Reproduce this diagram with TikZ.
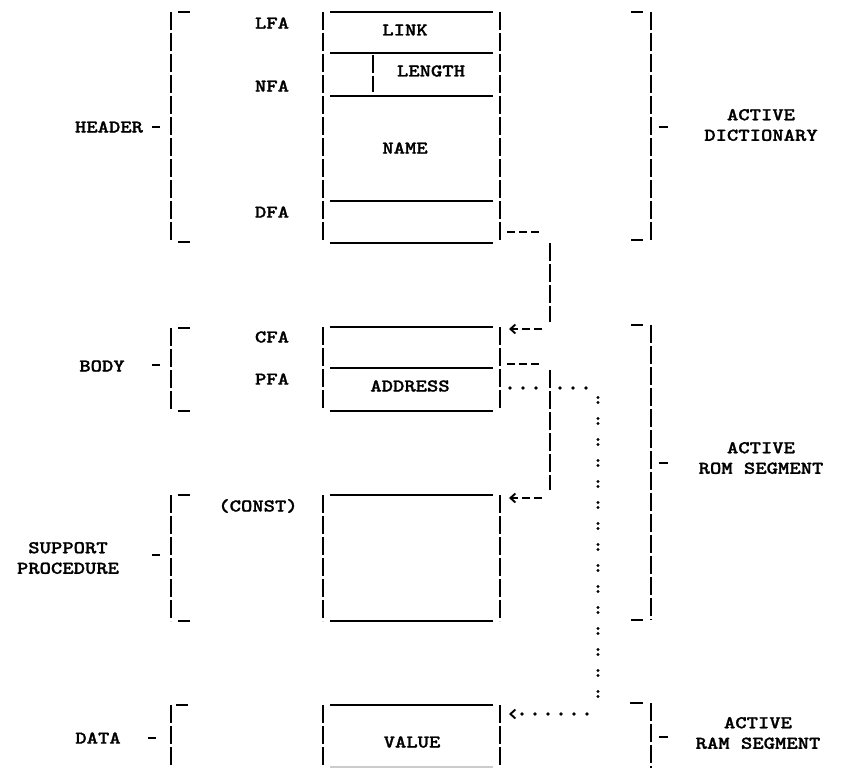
\documentclass[tikz,border=0pt]{standalone}
\usepackage{fontspec}
\newfontfamily\monobold{lmmonolt10-bold.otf}[FakeBold=1.2]
\usetikzlibrary{arrows.meta}

\begin{document}
\begin{tikzpicture}[x=1pt,y=-1pt,
	txt/.style={font=\monobold\fontsize{18}{20.5}\selectfont,
	inner sep=0pt,xscale=1.2,align=center},
	rule/.style={line width=1.8pt},
	bar/.style={line width=1.7pt,dash pattern=on 18pt off 3pt},
	tick/.style={line width=1.6pt},
	dashes/.style={line width=1.8pt,dash pattern=on 8pt off 4pt},
	dotrow/.style={line width=3.6pt,line cap=round,dash pattern=on 0pt off 13pt},
	colons/.style={line width=3.4pt,line cap=round,dash pattern=on 0pt off 5pt on 0pt off 16pt},
	ptr/.style={-{Straight Barb[length=5pt,width=9pt,line width=1.9pt]}}]
\useasboundingbox (0,0) rectangle (841,768);

% labels on the left
\node[txt] (header) at (109,127) {HEADER};
\node[txt] (body) at (102,366) {BODY};
\node[txt] (support) at (68,558) {SUPPORT\\PROCEDURE};
\node[txt] (data) at (98,738) {DATA};

% field addresses
\node[txt] (lfa) at (272,23) {LFA};
\node[txt] (nfa) at (272,86) {NFA};
\node[txt] (dfa) at (272,212) {DFA};
\node[txt] (cfa) at (272,337) {CFA};
\node[txt] (pfa) at (272,379) {PFA};
\node[txt] (const) at (258,506) {(CONST)};

% fields
\node[txt] (link) at (405,30) {LINK};
\node[txt] (length) at (431,71) {LENGTH};
\node[txt] (name) at (405,148) {NAME};
\node[txt] (address) at (410,386) {ADDRESS};
\node[txt] (value) at (412,742) {VALUE};

% labels on the right
\node[txt] (dict) at (761,125) {ACTIVE\\DICTIONARY};
\node[txt] (rom) at (761,458) {ACTIVE\\ROM SEGMENT};
\node[txt] (ram) at (758,733) {ACTIVE\\RAM SEGMENT};

% brackets
\foreach \t/\b/\m in {12/242/127,328/411/365,495/621/555}{
  \draw[bar] (171,\t) -- (171,\b);
  \draw[tick] (178,\t) -- (190,\t) (178,\b) -- (190,\b) (152,\m) -- (160,\m);
}
\draw[bar] (171,705) -- (171,768);
\draw[tick] (176,705) -- (188,705) (148,738) -- (156,738);
\foreach \t/\b/\m in {12/240/127,325/620/463}{
  \draw[bar] (651,\t) -- (651,\b);
  \draw[tick] (631,\t) -- (643,\t) (631,\b) -- (643,\b) (659,\m) -- (668,\m);
}
\draw[bar] (651,703) -- (651,768);
\draw[tick] (630,703) -- (643,703) (659,737) -- (668,737);

% boxes
\foreach \t/\b in {12/242,327/410,495/621,705/768}
  \draw[bar] (323,\t) -- (323,\b) (500,\t) -- (500,\b);
\foreach \y in {12,53,96,201,243,327,368,411,495,621,705}
  \draw[rule] (330,\y) -- (493,\y);
\draw[bar] (373,55) -- (373,92);
\draw[rule,black!20] (330,767) -- (493,767);

% connectors
\coordinate (dfa-out) at (507,232);
\coordinate (cfa-in) at (509,329);
\coordinate (cfa-out) at (507,364);
\coordinate (const-in) at (509,498);
\coordinate (pfa-out) at (510,388);
\coordinate (value-in) at (509,714);

\draw[dashes] (dfa-out) -- ++(32,0);
\draw[bar] (550,243) -- (550,322);
\draw[dashes,ptr] ([xshift=33pt]cfa-in) -- (cfa-in);
\draw[dashes] (cfa-out) -- ++(32,0);
\draw[bar] (550,370) -- (550,490);
\draw[dashes,ptr] ([xshift=33pt]const-in) -- (const-in);
\draw[dotrow] (pfa-out) -- ++(28,0) ++(22,0) -- ++(28,0);
\draw[colons] (598,397.5) -- (598,697);
\draw[dotrow,ptr] ([xshift=78pt]value-in) -- (value-in);
\end{tikzpicture}
\end{document}
